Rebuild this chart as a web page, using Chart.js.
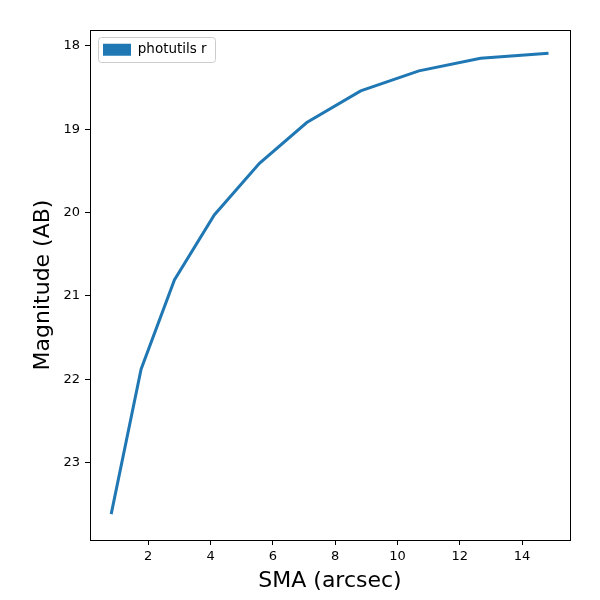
<!DOCTYPE html>
<html lang="en">
<head>
  <meta charset="UTF-8" />
  <title>Photutils r profile</title>
  <script src="https://cdn.jsdelivr.net/npm/chart.js"></script>
  <style>
    body {
      margin: 0;
      padding: 0;
      background: #ffffff;
    }
    .container {
      width: 600px;
      height: 600px;
    }
  </style>
</head>
<body>
  <div class="container">
    <canvas id="profileChart" width="600" height="600"></canvas>
  </div>

  <script>
    const smaValues = [0.81, 1.77, 2.84, 4.12, 5.57, 7.09, 8.82, 10.69, 12.67, 14.85];
    const magValues = [23.62, 21.88, 20.81, 20.03, 19.41, 18.92, 18.54, 18.30, 18.15, 18.09];
    const xTicks = [2, 4, 6, 8, 10, 12, 14];
    const yTicks = [18, 19, 20, 21, 22, 23];
    const seriesLabel = 'photutils r';

    const blue = '#1f77b4';
    const fontFamily = '"DejaVu Sans", sans-serif';

    // frame round the plot, like matplotlib spines
    const framePlugin = {
      id: 'frame',
      afterDatasetsDraw(chart) {
        const a = chart.chartArea;
        const ctx = chart.ctx;
        ctx.save();
        ctx.strokeStyle = '#000';
        ctx.lineWidth = 1;
        ctx.strokeRect(Math.round(a.left) + 0.5, Math.round(a.top) + 0.5,
          Math.round(a.right - a.left), Math.round(a.bottom - a.top));
        ctx.restore();
      }
    };

    // legend sits inside the plot (upper left) with a rounded box behind it
    const legendBoxPlugin = {
      id: 'legendBox',
      afterLayout(chart) {
        const lg = chart.legend;
        if (!lg) return;
        const dy = chart.chartArea.top - lg.top;
        if (dy > 0) {
          lg.top += dy;
          lg.bottom += dy;
          lg.legendHitBoxes.forEach(b => { b.top += dy; });
        }
      },
      beforeDraw(chart) {
        const boxes = chart.legend && chart.legend.legendHitBoxes;
        if (!boxes || !boxes.length) return;
        const hb = boxes[0];
        const cy = hb.top + hb.height / 2;
        const x = hb.left - 5.5, y = cy - 12.5;
        const w = hb.width + 13, h = 25;
        const ctx = chart.ctx;
        ctx.save();
        ctx.fillStyle = 'rgba(255,255,255,0.8)';
        ctx.strokeStyle = '#cccccc';
        ctx.lineWidth = 1;
        ctx.beginPath();
        ctx.roundRect(Math.round(x) + 0.5, Math.round(y) + 0.5, Math.round(w), Math.round(h), 3);
        ctx.fill();
        ctx.stroke();
        ctx.restore();
      }
    };

    const ctx = document.getElementById('profileChart').getContext('2d');
    const chart = new Chart(ctx, {
      type: 'line',
      data: {
        datasets: [{
          label: seriesLabel,
          data: smaValues.map((x, i) => ({ x: x, y: magValues[i] })),
          borderColor: blue,
          backgroundColor: blue,
          borderWidth: 3,
          pointRadius: 0,
          tension: 0,
          fill: false
        }]
      },
      options: {
        responsive: false,
        animation: false,
        layout: {
          padding: { top: 30, right: 30, left: 0, bottom: 0 }
        },
        plugins: {
          tooltip: { enabled: false },
          legend: {
            position: 'chartArea',
            align: 'start',
            labels: {
              color: '#000',
              boxWidth: 28,
              boxHeight: 12,
              padding: 13,
              font: { family: fontFamily, size: 13.5 },
              generateLabels(chart) {
                return Chart.defaults.plugins.legend.labels.generateLabels(chart)
                  .map(l => Object.assign(l, { lineWidth: 0 }));
              }
            }
          }
        },
        scales: {
          x: {
            type: 'linear',
            min: 0.13,
            max: 15.54,
            afterBuildTicks(scale) {
              scale.ticks = xTicks.map(v => ({ value: v }));
            },
            afterFit(scale) {
              scale.height = 60;
            },
            grid: {
              drawOnChartArea: false,
              drawTicks: true,
              tickLength: 5,
              color: '#000'
            },
            border: { display: true, color: '#000' },
            ticks: {
              color: '#000',
              padding: 4,
              maxRotation: 0,
              font: { family: fontFamily, size: 13 }
            },
            title: {
              display: true,
              text: 'SMA (arcsec)',
              color: '#000',
              padding: { top: 0, bottom: 6 },
              font: { family: fontFamily, size: 22 }
            }
          },
          y: {
            type: 'linear',
            reverse: true,
            min: 17.81,
            max: 23.93,
            afterBuildTicks(scale) {
              scale.ticks = yTicks.map(v => ({ value: v }));
            },
            afterFit(scale) {
              scale.width = 90;
            },
            grid: {
              drawOnChartArea: false,
              drawTicks: true,
              tickLength: 5,
              color: '#000'
            },
            border: { display: true, color: '#000' },
            ticks: {
              color: '#000',
              padding: 5,
              font: { family: fontFamily, size: 13 }
            },
            title: {
              display: true,
              text: 'Magnitude (AB)',
              color: '#000',
              padding: { top: 30, bottom: 0 },
              font: { family: fontFamily, size: 22 }
            }
          }
        }
      },
      plugins: [framePlugin, legendBoxPlugin]
    });
  </script>
</body>
</html>
